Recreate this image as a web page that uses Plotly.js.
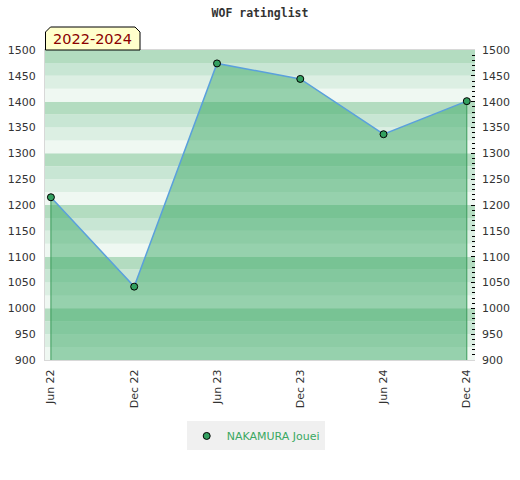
<!DOCTYPE html>
<html>
<head>
<meta charset="utf-8">
<script src="https://cdn.plot.ly/plotly-3.0.1.min.js"></script>
<style>html,body{margin:0;padding:0;background:#fff}#chart{width:520px;height:480px}</style>
</head>
<body>
<div id="chart"></div>
<script>
// ---- data ----
const playerName = "NAKAMURA Jouei";
const chartTitle = "WOF ratinglist";
const periodLabel = "2022-2024";
const dates = ["2022-06-01", "2022-12-01", "2023-06-01", "2023-12-01", "2024-06-01", "2024-12-01"];
const ratings = [1215, 1042, 1474, 1444, 1337, 1401];
const yTicks = [900, 950, 1000, 1050, 1100, 1150, 1200, 1250, 1300, 1350, 1400, 1450, 1500];
const bandColors = ["#b3dcc0", "#c8e6d4", "#dcefe3", "#eff8f2"]; // top to bottom within each 100

const yMin = 900, yMax = 1500;

// background bands
const shapes = [];
for (let v = yMin; v < yMax; v += 25) {
  const idx = 3 - ((v % 100) / 25);
  shapes.push({type: 'rect', xref: 'paper', yref: 'y', x0: 0, x1: 1, y0: v, y1: v + 25,
    fillcolor: bandColors[idx], line: {width: 0}, layer: 'below'});
}
// badge box
shapes.push({type: 'path', xref: 'paper', yref: 'paper', xsizemode: 'pixel', ysizemode: 'pixel',
  xanchor: 0, yanchor: 1,
  path: 'M0.5,0 L0.5,18 L5.5,23 L90,23 L95,18 L95,0 Z',
  fillcolor: '#ffffcc', line: {color: '#000', width: 1}, layer: 'above'});

const traces = [
  { // filled area with line
    x: dates, y: ratings, type: 'scatter', mode: 'lines', fill: 'tozeroy',
    fillcolor: 'rgba(62,170,104,0.5)', line: {color: '#5aa0dc', width: 1.5},
    showlegend: false, hoverinfo: 'skip'
  },
  { // left edge
    x: [dates[0], dates[0]], y: [yMin, ratings[0]], type: 'scatter', mode: 'lines',
    line: {color: '#3a9a5a', width: 1}, showlegend: false, hoverinfo: 'skip'
  },
  { // right edge
    x: [dates[dates.length - 1], dates[dates.length - 1]], y: [yMin, ratings[ratings.length - 1]],
    type: 'scatter', mode: 'lines', line: {color: '#3a9a5a', width: 1}, showlegend: false, hoverinfo: 'skip'
  },
  { // markers
    x: dates, y: ratings, type: 'scatter', mode: 'markers', name: playerName,
    marker: {color: '#33a060', size: 7, line: {color: '#000', width: 1}}
  },
  { // right axis carrier
    x: dates, y: ratings, yaxis: 'y2', type: 'scatter', mode: 'markers',
    marker: {opacity: 0}, showlegend: false, hoverinfo: 'skip'
  }
];

const tickFont = {family: 'DejaVu Sans', size: 11, color: '#333'};

const layout = {
  width: 520, height: 480,
  margin: {l: 45, r: 45, t: 50, b: 120},
  paper_bgcolor: '#fff', plot_bgcolor: '#fff',
  title: {text: chartTitle, x: 0.5, xanchor: 'center', y: 0.973, yanchor: 'middle',
    font: {family: 'DejaVu Sans Mono', size: 11.5, color: '#333', weight: 'bold'}},
  xaxis: {
    type: 'date', range: ['2022-05-19', '2024-12-19'],
    tickvals: dates, tickformat: '%b %y', tickangle: -90,
    tickfont: tickFont, ticks: '', showgrid: false, zeroline: false,
    showline: true, mirror: true, linecolor: '#d8d8d8', linewidth: 1, ticklabelstandoff: 4
  },
  yaxis: {
    range: [yMin, yMax], tickvals: yTicks, tickfont: tickFont, ticks: '',
    showgrid: false, zeroline: false, showline: true, linecolor: '#d8d8d8',
    ticklabelstandoff: 6, fixedrange: true
  },
  yaxis2: {
    range: [yMin, yMax], overlaying: 'y', side: 'right', tickvals: yTicks, tickfont: tickFont,
    ticks: 'inside', ticklen: 4, tickcolor: '#000', tickwidth: 1,
    minor: {dtick: 10, tick0: 900, ticks: 'inside', ticklen: 3, tickcolor: '#000', tickwidth: 1},
    showgrid: false, zeroline: false, showline: false, ticklabelstandoff: 6
  },
  shapes: shapes,
  annotations: [{
    text: periodLabel, xref: 'paper', yref: 'paper', x: 0, y: 1, xanchor: 'left', yanchor: 'middle',
    xshift: 6, yshift: 11, showarrow: false,
    font: {family: 'DejaVu Sans', size: 14.5, color: '#8b0000'}
  }],
  legend: {
    orientation: 'h', x: 0.49, xanchor: 'center', y: -0.245, yanchor: 'middle',
    bgcolor: '#f0f0f0', font: {family: 'DejaVu Sans', size: 11, color: '#3aa862'}
  },
  showlegend: true
};

Plotly.newPlot('chart', traces, layout, {displayModeBar: false, staticPlot: true});
</script>
</body>
</html>
